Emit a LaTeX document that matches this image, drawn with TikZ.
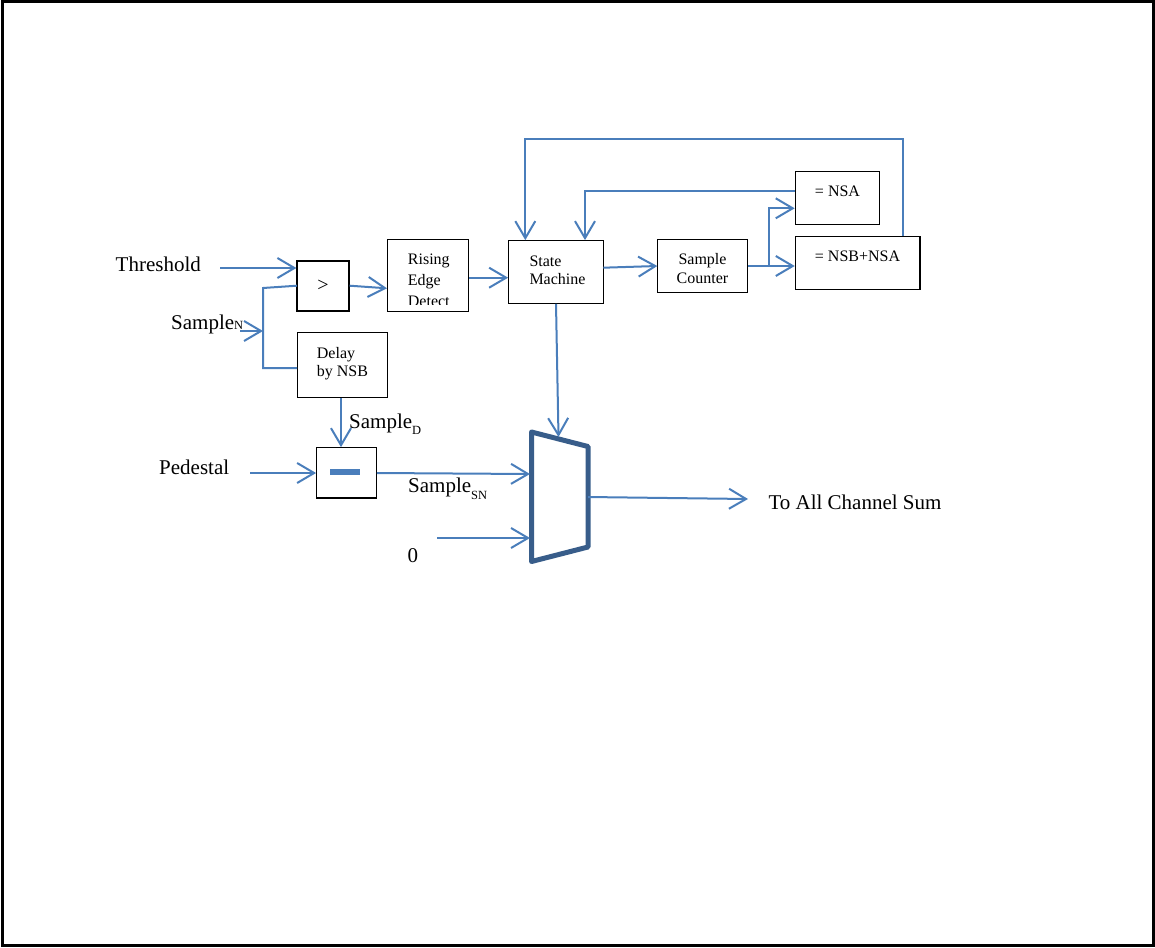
\documentclass[tikz,border=0pt]{standalone}
\usepackage{fontspec}
\setmainfont{Liberation Serif}
\usetikzlibrary{arrows.meta,calc}
\definecolor{wireblue}{HTML}{4A7EBB}
\definecolor{muxblue}{HTML}{385D8A}
\newcommand\subx[2]{\raisebox{-#1}{\fontsize{12.5}{12.5}\selectfont #2}}
\begin{document}
\begin{tikzpicture}[x=1pt,y=-1pt,
  box/.style={draw=black,line width=1.2pt,inner sep=0pt},
  bt/.style={inner sep=0pt,font=\fontsize{16}{18}\selectfont,anchor=base west},
  btc/.style={inner sep=0pt,font=\fontsize{16}{18}\selectfont,anchor=base},
  lbl/.style={font=\fontsize{21}{24}\selectfont,inner sep=0pt,anchor=base west},
  wire/.style={draw=wireblue,line width=2pt},
  arr/.style={wire,-{Straight Barb[length=17pt,width=20pt]}},
]
\useasboundingbox (0,0) rectangle (1155,947);
\draw[line width=3pt] (2,2) rectangle (1153,945);

% boxes
\node[box,minimum width=52pt,minimum height=50pt,font=\fontsize{20}{24}\selectfont] (gt) at (323,286) {>};
\node[box,minimum width=81.4pt,minimum height=72pt] (red) at (428,275.3) {};
\begin{scope}
  \clip (380,230) rectangle (475,304);
  \node[bt] (red1) at (407.7,264) {Rising};
  \node[bt] (red2) at (407.7,285) {Edge};
  \node[bt] (red3) at (407.7,306) {Detect};
\end{scope}
\node[box,minimum width=94.6pt,minimum height=62.6pt] (sm) at (556,272) {};
\node[bt] (sm1) at (529.3,266) {State};
\node[bt] (sm2) at (529.3,284) {Machine};
\node[box,minimum width=90.4pt,minimum height=53.4pt] (sc) at (702.5,266) {};
\node[btc] (sc1) at (702.5,264.3) {Sample};
\node[btc] (sc2) at (702.5,283.3) {Counter};
\node[box,minimum width=84.4pt,minimum height=53pt] (nsa) at (837.5,197.8) {};
\node[btc] (nsatext) at (837.5,196.7) {= NSA};
\node[box,minimum width=124.7pt,minimum height=52.6pt] (nsb) at (857.7,263) {};
\node[btc] (nsbtext) at (857.5,261.7) {= NSB+NSA};
\node[box,minimum width=89.6pt,minimum height=65pt] (delay) at (342.5,364.8) {};
\node[bt] (d1) at (316.7,358.3) {Delay};
\node[bt] (d2) at (316.7,376.7) {by NSB};
\node[box,minimum width=59.6pt,minimum height=50.3pt] (minus) at (346.5,472.9) {};
\fill[wireblue] (330,469) rectangle (360,475) coordinate (bar);

% mux
\coordinate (m1) at (531.5,432);
\coordinate (m2) at (588,446.5);
\coordinate (m3) at (588,547);
\coordinate (m4) at (531.5,561.5);
\draw[muxblue,line width=5pt,line join=round] (m1) -- (m2) -- (m3) -- (m4) -- cycle;

% labels
\node[lbl] (thr) at (115.5,271.5) {Threshold};
\node[lbl] (sampN) at (171,329) {Sample\subx{0pt}{N}};
\node[lbl] (ped) at (159,474) {Pedestal};
\node[lbl] (sampD) at (349,428) {Sample\subx{6pt}{D}};
\node[lbl] (sampSN) at (408,492.3) {Sample\subx{7pt}{SN}};
\node[lbl] (zero) at (407.5,562) {0};
\node[lbl] (out) at (768.3,509.5) {To All Channel Sum};

% coordinates
\coordinate (thrS) at (220,268);
\coordinate (sNs) at (240,331);
\coordinate (jm) at (263,331);
\coordinate (jt) at (263,288);
\coordinate (jb) at (263,368);
\coordinate (gtin) at (297,285.7);
\coordinate (redin) at (387,288.3);
\coordinate (r2s) at (469,277.7);
\coordinate (smout) at (603.3,267.7);
\coordinate (scin) at (657.3,266);
\coordinate (scj) at (768.7,266);
\coordinate (scjt) at (768.7,208.3);
\coordinate (fb1) at (585,191);
\coordinate (fb2a) at (903.3,139);
\coordinate (fb2b) at (525.3,139);
\coordinate (pedS) at (250,473);
\coordinate (zS) at (437,538);
\coordinate (muxin1) at (530,474);
\coordinate (muxin2) at (530,538);
\coordinate (muxtop) at (558.5,437);
\coordinate (muxout) at (588,497);
\coordinate (outE) at (748,499);
\coordinate (dx) at (341,0);

% wires
\draw[arr] (thrS) -- (thrS -| gt.west);
\draw[arr] (sNs) -- (jm);
\draw[wire] (gtin) -- (jt) -- (jb) -- (jb -| delay.west);
\draw[arr] (gt.east |- gtin) -- (redin);
\draw[arr] (r2s) -- (r2s -| sm.west);
\draw[arr] (smout) -- (scin);
\draw[arr] (sc.east |- scin) -- (scin -| nsb.west);
\draw[arr] (scj) -- (scjt) -- (scjt -| nsa.west);
\draw[arr] (nsa.west |- fb1) -- (fb1) -- (fb1 |- sm.north);
\draw[arr] (fb2a |- nsb.north) -- (fb2a) -- (fb2b) -- (fb2b |- sm.north);
\draw[arr] (delay.south -| dx) -- (minus.north -| dx);
\draw[arr] (pedS) -- (pedS -| minus.west);
\draw[arr] (minus.east |- pedS) -- (muxin1);
\draw[arr] (zS) -- (muxin2);
\draw[arr] (sm.south) -- (muxtop);
\draw[arr] (muxout) -- (outE);
\end{tikzpicture}
\end{document}
